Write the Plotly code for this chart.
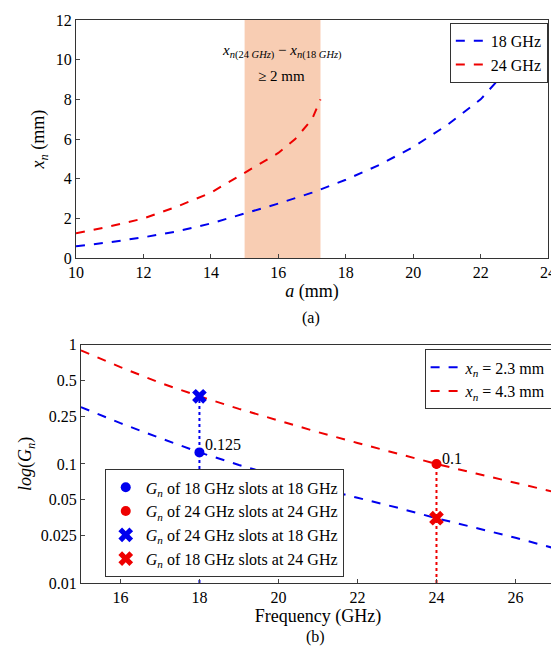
import math
import plotly.graph_objects as go

# (a) slot offset vs broad wall width
a_mm = [10, 11, 12, 13, 14, 15, 16, 17, 18, 19, 20, 21, 22, 23, 23.3]
xn_18 = [0.6, 0.8, 1.05, 1.35, 1.75, 2.25, 2.75, 3.3, 3.95, 4.7, 5.6, 6.7, 8.0, 9.9, 10.6]
a_mm_24 = [10, 11, 12, 13, 14, 15, 16, 16.5, 17, 17.25]
xn_24 = [1.25, 1.6, 2.0, 2.6, 3.3, 4.3, 5.3, 6.0, 7.0, 8.0]

# (b) conductance vs frequency
freq = [15, 16, 17, 18, 19, 20, 21, 22, 23, 24, 25, 26, 27]
gn_23 = [0.3, 0.22, 0.165, 0.125, 0.098, 0.078, 0.063, 0.052, 0.043, 0.035, 0.029, 0.024, 0.0195]
gn_43 = [0.9, 0.65, 0.48, 0.37, 0.29, 0.23, 0.185, 0.15, 0.122, 0.1, 0.083, 0.069, 0.058]

FONT = "Times New Roman, Liberation Serif, DejaVu Serif, serif"
def f(size):
    return dict(family=FONT, size=size, color="black")

fig = go.Figure()

fig.add_vrect(x0=15, x1=17.25, fillcolor="#f8cdb3", opacity=1, line_width=0, layer="below", xref="x", yref="y")

fig.add_trace(go.Scatter(x=a_mm, y=xn_18, mode="lines", name="18 GHz",
                         line=dict(color="#0000ee", dash="dash", width=2), xaxis="x", yaxis="y", legend="legend"))
fig.add_trace(go.Scatter(x=a_mm_24, y=xn_24, mode="lines", name="24 GHz",
                         line=dict(color="#ee0000", dash="dash", width=2), xaxis="x", yaxis="y", legend="legend"))

fig.add_trace(go.Scatter(x=freq, y=gn_23, mode="lines", name="<i>x<sub>n</sub></i> = 2.3 mm",
                         line=dict(color="#0000ee", dash="dash", width=2), xaxis="x2", yaxis="y2", legend="legend2"))
fig.add_trace(go.Scatter(x=freq, y=gn_43, mode="lines", name="<i>x<sub>n</sub></i> = 4.3 mm",
                         line=dict(color="#ee0000", dash="dash", width=2), xaxis="x2", yaxis="y2", legend="legend2"))

fig.add_trace(go.Scatter(x=[18, 18], y=[0.01, 0.37], mode="lines", showlegend=False,
                         line=dict(color="#0000ee", dash="dot", width=2), xaxis="x2", yaxis="y2"))
fig.add_trace(go.Scatter(x=[24, 24], y=[0.01, 0.1], mode="lines", showlegend=False,
                         line=dict(color="#ee0000", dash="dot", width=2), xaxis="x2", yaxis="y2"))

markers = [
    ([18], [0.125], "circle", "#0000ee", "<i>G<sub>n</sub></i> of 18 GHz slots at 18 GHz"),
    ([24], [0.1], "circle", "#ee0000", "<i>G<sub>n</sub></i> of 24 GHz slots at 24 GHz"),
    ([18], [0.37], "x", "#0000ee", "<i>G<sub>n</sub></i> of 24 GHz slots at 18 GHz"),
    ([24], [0.035], "x", "#ee0000", "<i>G<sub>n</sub></i> of 18 GHz slots at 24 GHz"),
]
for mx, my, sym, col, nm in markers:
    fig.add_trace(go.Scatter(x=mx, y=my, mode="markers", name=nm,
                             marker=dict(symbol=sym, color=col, size=13 if sym == "x" else 10),
                             xaxis="x2", yaxis="y2", legend="legend3"))

fig.add_annotation(x=18, y=math.log10(0.125), text="0.125", showarrow=False, xanchor="left", xshift=4, yshift=8,
                   xref="x2", yref="y2", font=f(16))
fig.add_annotation(x=24, y=math.log10(0.1), text="0.1", showarrow=False, xanchor="left", xshift=4, yshift=5,
                   xref="x2", yref="y2", font=f(16))
fig.add_annotation(x=16.1, y=10.4, text="<i>x</i><sub><i>n</i>(24 <i>GHz</i>)</sub> − <i>x</i><sub><i>n</i>(18 <i>GHz</i>)</sub>",
                   showarrow=False, xref="x", yref="y", font=f(15))
fig.add_annotation(x=16.1, y=9.2, text="≥ 2 mm", showarrow=False, xref="x", yref="y", font=f(15))
fig.add_annotation(x=0.5, y=-0.115, text="(b)", showarrow=False, xref="paper", yref="paper", font=f(16))
fig.add_annotation(x=0.49, y=0.47, text="(a)", showarrow=False, xref="paper", yref="paper", font=f(16))

ax = dict(showline=True, mirror=True, linecolor="#333", ticks="inside", ticklen=4, showgrid=False,
          zeroline=False, tickfont=f(16))
fig.update_layout(
    width=559, height=647, margin=dict(l=68, r=4, t=12, b=72),
    paper_bgcolor="white", plot_bgcolor="white",
    font=f(16),
    xaxis=dict(ax, domain=[0, 480 / 487], range=[10, 24], dtick=2, anchor="y",
               title=dict(text="<i>a</i> (mm)", standoff=0, font=f(18))),
    yaxis=dict(ax, domain=[0.577, 1], range=[0, 12], dtick=2, anchor="x",
               title=dict(text="<i>x<sub>n</sub></i> (mm)", standoff=6, font=f(18))),
    xaxis2=dict(ax, domain=[5 / 487, 1], range=[15, 27], dtick=2, anchor="y2",
                title=dict(text="Frequency (GHz)", standoff=0, font=f(18))),
    yaxis2=dict(ax, domain=[0, 0.423], type="log", range=[-2, 0], anchor="x2",
                tickvals=[0.01, 0.025, 0.05, 0.1, 0.25, 0.5, 1],
                ticktext=["0.01", "0.025", "0.05", "0.1", "0.25", "0.5", "1"],
                title=dict(text="<i>log</i>(<i>G<sub>n</sub></i>)", standoff=4, font=f(18))),
    legend=dict(x=0.985, y=0.995, xanchor="right", yanchor="top", bordercolor="#333", borderwidth=1,
                bgcolor="white", tracegroupgap=0, font=f(16)),
    legend2=dict(x=0.995, y=0.415, xanchor="right", yanchor="top", bordercolor="#333", borderwidth=1,
                 bgcolor="white", font=f(16)),
    legend3=dict(x=0.06, y=0.01, xanchor="left", yanchor="bottom", bordercolor="#333", borderwidth=1,
                 bgcolor="white", font=f(16)),
)

fig.write_html("out.html")
